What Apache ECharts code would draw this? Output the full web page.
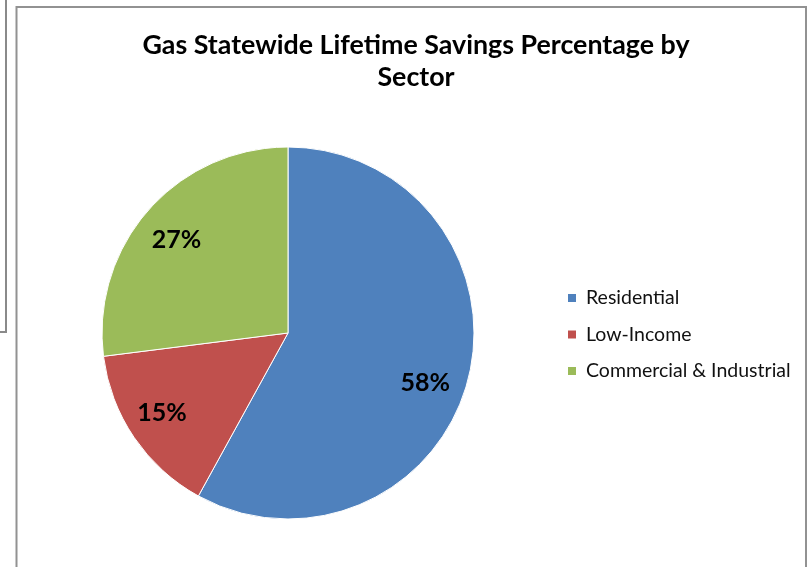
<!DOCTYPE html>
<html>
<head>
<meta charset="utf-8">
<script src="https://cdn.jsdelivr.net/npm/echarts@6/dist/echarts.min.js"></script>
<style>
  html, body { margin: 0; padding: 0; background: #fff; }
  #chart { width: 810px; height: 567px; }
</style>
</head>
<body>
<div id="chart"></div>
<script>
// Sector shares of gas statewide lifetime savings (percent)
const sectors = ['Residential', 'Low-Income', 'Commercial & Industrial'];
const shares = [58, 15, 27];
const sectorColors = ['#4F81BD', '#C0504D', '#9BBB59'];
const chartTitle = 'Gas Statewide Lifetime Savings Percentage by\nSector';

const FONT = 'Lato, "Open Sans", sans-serif';
const CX = 288, CY = 333, R = 186;

// small nudges for the percentage labels, per slice
const labelOffsets = [[-8, 13], [-2, -4], [1, 6]];

const sliceData = sectors.map((name, i) => ({
  name,
  value: shares[i],
  itemStyle: { color: sectorColors[i] }
}));

const chart = echarts.init(document.getElementById('chart'), null, { renderer: 'canvas' });

chart.setOption({
  animation: false,
  backgroundColor: '#ffffff',
  title: {
    text: chartTitle,
    left: 411,
    top: 24,
    textAlign: 'center',
    textStyle: {
      fontFamily: FONT,
      fontSize: 26.8,
      fontWeight: 'bold',
      color: '#000',
      lineHeight: 32
    }
  },
  legend: {
    orient: 'vertical',
    left: 561,
    top: 283,
    itemWidth: 10,
    itemHeight: 10,
    itemGap: 16.5,
    itemTextGap: 8,
    icon: 'rect',
    data: sectors,
    textStyle: {
      fontFamily: FONT,
      fontSize: 19.5,
      lineHeight: 18,
      color: '#111',
      padding: [0, 0, 0, 4]
    }
  },
  graphic: [
    // neighbouring frame at the top-left edge
    { type: 'polyline', shape: { points: [[6, 0], [6, 332], [0, 332]] },
      style: { stroke: '#8a8a8a', lineWidth: 2, fill: null }, silent: true },
    // chart area frame
    { type: 'polyline', shape: { points: [[16.5, 567], [16.5, 7], [806, 7], [806, 567]] },
      style: { stroke: '#929292', lineWidth: 2, fill: null }, silent: true }
  ],
  series: [
    {
      type: 'pie',
      center: [CX, CY],
      radius: [0, R],
      startAngle: 90,
      clockwise: true,
      data: sliceData,
      label: { show: false },
      labelLine: { show: false },
      itemStyle: { borderColor: '#ffffff', borderWidth: 1 },
      emphasis: { disabled: true }
    },
    {
      // ring used only to place the percentage labels near the rim
      type: 'pie',
      center: [CX, CY],
      radius: [R * 0.58, R],
      startAngle: 90,
      clockwise: true,
      silent: true,
      data: sliceData.map((d, i) => ({
        name: d.name,
        value: d.value,
        label: { offset: labelOffsets[i] }
      })),
      itemStyle: { color: 'rgba(0,0,0,0)' },
      label: {
        show: true,
        position: 'inside',
        formatter: p => p.value + '%',
        fontFamily: FONT,
        fontSize: 25,
        fontWeight: 'bold',
        color: '#000'
      },
      labelLine: { show: false },
      emphasis: { disabled: true },
      legendHoverLink: false
    }
  ]
});
</script>
</body>
</html>
